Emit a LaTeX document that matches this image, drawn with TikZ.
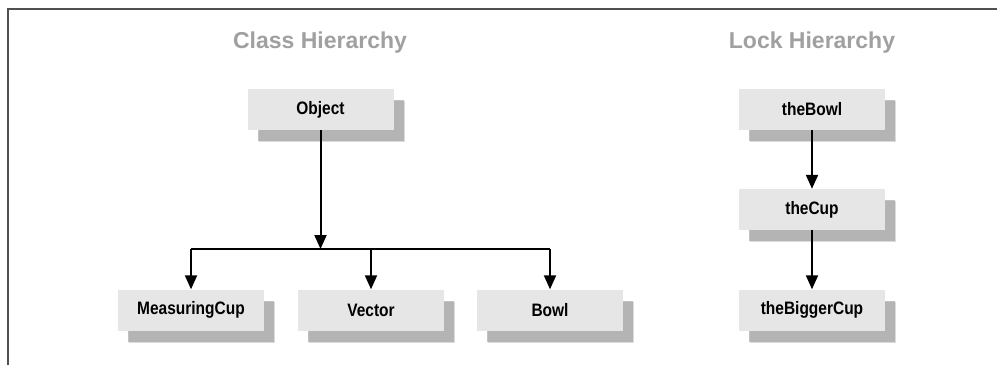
\documentclass[tikz,border=0pt]{standalone}
\usepackage{fontspec}
\setmainfont{Liberation Sans}
\newfontfamily\boxfont[FakeStretch=0.86]{Liberation Sans}
\usetikzlibrary{arrows.meta}
\definecolor{boxfill}{HTML}{E6E6E6}
\definecolor{shadowc}{HTML}{9A9A9A}
\definecolor{titlec}{HTML}{A0A0A0}
\definecolor{framec}{HTML}{505050}
\tikzset{
  classbox/.style={minimum width=146pt, minimum height=41pt, inner sep=0pt,
    fill=boxfill, font=\boxfont\fontsize{18}{20}\selectfont\bfseries,
    preaction={fill=shadowc, opacity=0.35, transform canvas={shift={(11pt,-12pt)}}},
    preaction={fill=shadowc, opacity=0.6, transform canvas={shift={(10pt,-11pt)}}}},
  title/.style={text=titlec, font=\fontsize{23}{26}\selectfont\bfseries},
  arr/.style={line width=2pt, -{Triangle[width=12pt,length=14pt]}},
  conn/.style={line width=2pt}
}
\begin{document}
\begin{tikzpicture}[x=1pt,y=-1pt]
\useasboundingbox (0,0) rectangle (997,365);
\fill[white] (0,0) rectangle (997,365);
\draw[framec, line width=1.5pt] (8,365) -- (8,9) -- (997,9);
% titles
\node[title] (t1) at (320,43) {Class Hierarchy};
\node[title] (t2) at (812,43) {Lock Hierarchy};
% class hierarchy
\node[classbox] (obj) at (320.5,109.5) {Object};
\node[classbox] (mc) at (191,310) {MeasuringCup};
\node[classbox] (vec) at (371,310) {Vector};
\node[classbox] (bowl) at (550,310) {Bowl};
\coordinate (J) at (320.5,249);
\draw[conn] (mc.north |- J) -- (bowl.north |- J);
\draw[arr] (obj.south) -- (J);
\draw[arr] (mc.north |- J) -- (mc.north);
\draw[arr] (vec.north |- J) -- (vec.north);
\draw[arr] (bowl.north |- J) -- (bowl.north);
% lock hierarchy
\node[classbox] (tb) at (812,109.5) {theBowl};
\node[classbox] (tc) at (812,209.5) {theCup};
\node[classbox] (tbc) at (812,310) {theBiggerCup};
\draw[arr] (tb.south) -- (tc.north);
\draw[arr] (tc.south) -- (tbc.north);
\end{tikzpicture}
\end{document}
